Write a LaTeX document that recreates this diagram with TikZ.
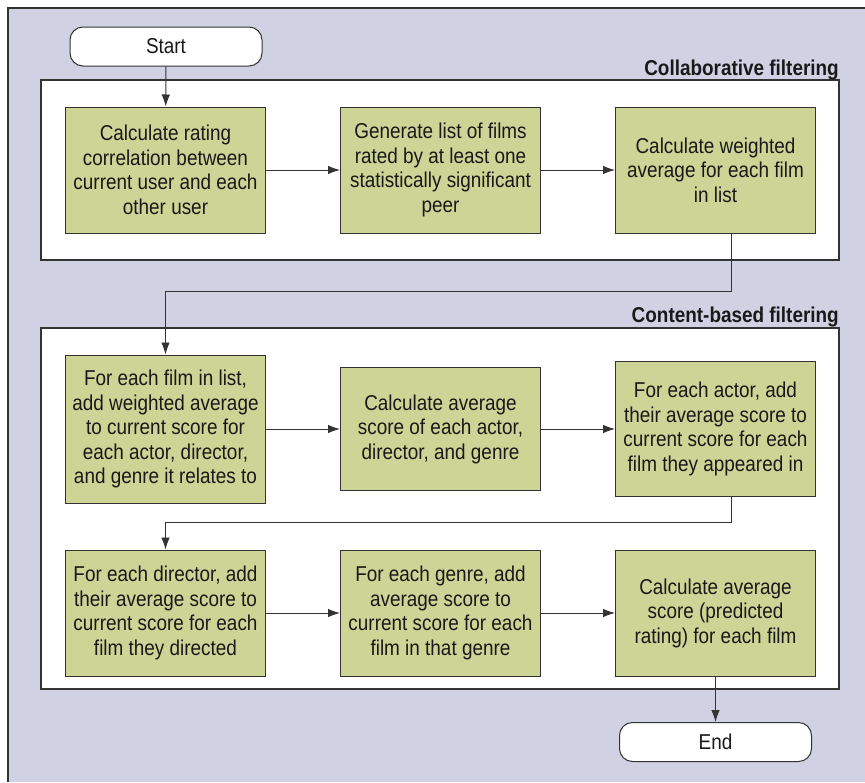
\documentclass[tikz,border=0pt]{standalone}
\usepackage{fontspec}
\setmainfont{Liberation Sans}[FakeStretch=0.88]
\usepackage{tikz}
\usetikzlibrary{arrows.meta}
\definecolor{panelblue}{RGB}{208,209,227}
\definecolor{boxgreen}{RGB}{204,213,149}
\definecolor{linegray}{RGB}{51,51,51}
\tikzstyle{startstop} = [rectangle, rounded corners=13pt, minimum width=192pt, minimum height=39pt, text centered, draw=linegray, fill=white, line width=1pt]
\tikzstyle{process} = [rectangle, minimum width=200pt, minimum height=126pt, align=center, inner sep=0pt, draw=linegray, fill=boxgreen, line width=1pt]
\tikzstyle{frame} = [draw=linegray, fill=white, line width=1.2pt]
\tikzstyle{grouplabel} = [anchor=base east, inner sep=0pt, font=\bfseries\fontsize{21.5}{24}\selectfont]
\tikzstyle{arrow} = [line width=0.9pt, draw=linegray, -{Latex[length=12pt,width=8.5pt]}]

\begin{document}
\begin{tikzpicture}[x=1pt, y=-1pt, node distance=275pt, font=\fontsize{21.5}{24.5}\selectfont, text=black!90]
	\useasboundingbox (0,0) rectangle (865,782);
	% background panel and the two groups
	\fill[panelblue] (8,8) rectangle (865,782);
	\draw[linegray, line width=1.2pt] (8,782) -- (8,8) -- (865,8);
	\draw[frame] (41,80) rectangle (839,260);
	\draw[frame] (41,328) rectangle (839,689);
	\node[grouplabel] at (839,75) {Collaborative filtering};
	\node[grouplabel] at (839,322) {Content-based filtering};

	\node(start) [startstop] at (166,46.5) {Start};
	\node(rating_correlation) [process] at (165.5,170) {Calculate rating\\correlation between\\current user and each\\other user};
	\node(film_list) [process, right of=rating_correlation] {Generate list of films\\rated by at least one\\statistically significant\\peer};
	\node(weighted_average) [process, right of=film_list] {Calculate weighted\\average for each film\\in list};
	\node(add_weighted) [process, minimum height=148pt] at (165.5,429) {For each film in list,\\add weighted average\\to current score for\\each actor, director,\\and genre it relates to};
	\node(average_score) [process, minimum height=123pt, right of=add_weighted] {Calculate average\\score of each actor,\\director, and genre};
	\node(actor_score) [process, minimum height=135pt, right of=average_score] {For each actor, add\\their average score to\\current score for each\\film they appeared in};
	\node(director_score) [process] at (165.5,613) {For each director, add\\their average score to\\current score for each\\film they directed};
	\node(genre_score) [process, right of=director_score] {For each genre, add\\average score to\\current score for each\\film in that genre};
	\node(predicted_rating) [process, right of=genre_score] {Calculate average\\score (predicted\\rating) for each film};
	\node(end) [startstop] at (715.5,742) {End};

	\draw[arrow] (start) -- (rating_correlation);
	\draw[arrow] (rating_correlation) -- (film_list);
	\draw[arrow] (film_list) -- (weighted_average);
	\draw[arrow] ([xshift=16pt]weighted_average.south) -- ++(0,58) -| (add_weighted.north);
	\draw[arrow] (add_weighted) -- (average_score);
	\draw[arrow] (average_score) -- (actor_score);
	\draw[arrow] ([xshift=16pt]actor_score.south) -- ++(0,25) -| (director_score.north);
	\draw[arrow] (director_score) -- (genre_score);
	\draw[arrow] (genre_score) -- (predicted_rating);
	\draw[arrow] (predicted_rating) -- (end);
\end{tikzpicture}
\end{document}
